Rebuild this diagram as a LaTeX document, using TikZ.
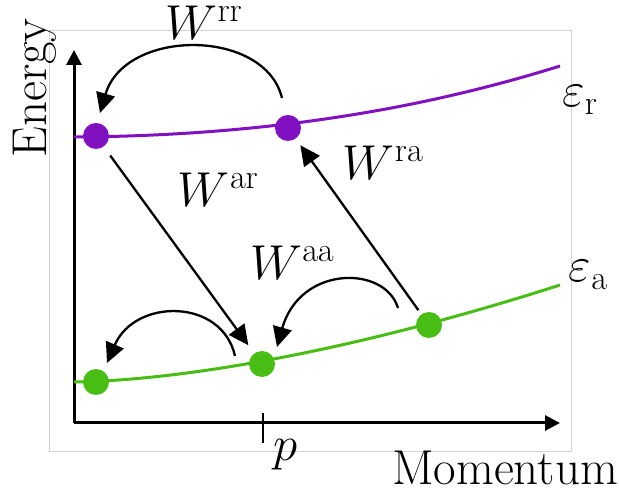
\RequirePackage{fix-cm}
\documentclass[tikz,border=0pt]{standalone}
\usetikzlibrary{arrows.meta,calc}
\definecolor{bandr}{RGB}{128,16,192}
\definecolor{banda}{RGB}{72,190,20}
\begin{document}
\begin{tikzpicture}[x=1pt,y=1pt,font=\fontsize{49}{58}\selectfont,
    axis/.style={line width=3pt,-{Triangle[length=15pt,width=15pt]}},
    band/.style={line width=3pt},
    dot/.style={circle,inner sep=0pt,minimum size=26pt},
    hop/.style={line width=2.3pt,-{Triangle[length=20pt,width=19pt]}}]
    \useasboundingbox (0,0) rectangle (619,493);
    \draw[black!18,line width=1pt] (49,41) rectangle (571,462);

    % axes
    \coordinate (O) at (74,70);
    \coordinate (ytop) at (74,443);
    \coordinate (xend) at (560,70);
    \draw[axis] (O) -- (ytop);
    \draw[axis] (O) -- (xend);
    \node[rotate=90] (energy) at (35,405) {Energy};
    \node (momentum) at (505,25) {Momentum};
    \draw[line width=2.5pt] (263,50) -- (263,80);
    \node (p) at (286,38) {$p$};

    % bands
    \draw[band,bandr] (74,356) .. controls (250,357) and (410,380) .. (560,427);
    \draw[band,banda] (74,111) .. controls (200,113) and (380,150) .. (560,208);
    \node at (580,393) {$\varepsilon_{\mathrm{r}}$};
    \node at (588,218) {$\varepsilon_{\mathrm{a}}$};

    \node[dot,fill=bandr] (r1) at (96,357) {};
    \node[dot,fill=bandr] (r2) at (288,365) {};
    \node[dot,fill=banda] (a1) at (96,111) {};
    \node[dot,fill=banda] (a2) at (262,129) {};
    \node[dot,fill=banda] (a3) at (429,168) {};

    % scattering
    \draw[hop] ($(r2)+(-6,30)$) .. controls ($(r2)+(-23,100)$)
        and ($(r1)+(29,108)$) .. ($(r1)+(4,23)$);
    \draw[hop,shorten <=11pt,shorten >=10pt] (r1) -- (a2);
    \draw[hop,shorten <=5pt,shorten >=8pt] (a3) -- (r2);
    \draw[hop] ($(a3)+(-31,17)$) .. controls ($(a3)+(-44,60)$)
        and ($(a2)+(38,99)$) .. ($(a2)+(15,17)$);
    \draw[hop] ($(a2)+(-27,8)$) .. controls ($(a2)+(-40,66)$)
        and ($(a1)+(39,84)$) .. ($(a1)+(11,19)$);
    \node[inner sep=0pt] (Wrr) at (204,470) {$W^{\mathrm{rr}}$};
    \node (War) at (218,303) {$W^{\mathrm{ar}}$};
    \node (Wra) at (383,330) {$W^{\mathrm{ra}}$};
    \node (Waa) at (292,230) {$W^{\mathrm{aa}}$};
\end{tikzpicture}
\end{document}
